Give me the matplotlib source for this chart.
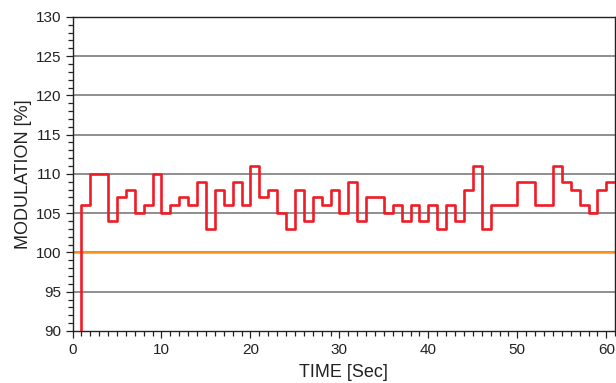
import matplotlib
matplotlib.use('Agg')
import matplotlib.pyplot as plt
from matplotlib.ticker import MultipleLocator
import numpy as np

plt.rcParams['font.family'] = ['Liberation Sans', 'DejaVu Sans']

# modulation per one-second interval [t, t+1)
seconds = list(range(0, 62))
modulation = [0, 106, 110, 110, 104, 107, 108, 105, 106, 110,
              105, 106, 107, 106, 109, 103, 108, 106, 109, 106,
              111, 107, 108, 105, 103, 108, 104, 107, 106, 108,
              105, 109, 104, 107, 107, 105, 106, 104, 106, 104,
              106, 103, 106, 104, 108, 111, 103, 106, 106, 106,
              109, 109, 106, 106, 111, 109, 108, 106, 105, 108,
              109, 109]
reference_level = 100
y_ticks = [90, 95, 100, 105, 110, 115, 120, 125, 130]
x_ticks = [0, 10, 20, 30, 40, 50, 60]

fig = plt.figure(figsize=(6.16, 3.83), dpi=100)
ax = fig.add_axes([0.1177, 0.136, 0.881, 0.82])

for yv in y_ticks[1:-1]:
    ax.axhline(yv, color='#707070', lw=1.1, zorder=1)
ax.axhline(reference_level, color='#f7941d', lw=1.8, zorder=2)
ax.step(seconds, modulation, where='post', color='#ee1c25', lw=1.9, zorder=3)

ax.set_xlim(0, 61)
ax.set_ylim(90, 130)
ax.set_xticks(x_ticks)
ax.set_yticks(y_ticks)
ax.xaxis.set_minor_locator(MultipleLocator(1))
ax.yaxis.set_minor_locator(MultipleLocator(1))
ax.tick_params(axis='both', which='major', direction='out', length=5, width=0.9,
               labelsize=11, colors='#222222', pad=3)
ax.tick_params(axis='x', which='major', pad=4)
ax.tick_params(axis='both', which='minor', direction='out', length=3.5, width=0.9,
               colors='#222222')
for s in ax.spines.values():
    s.set_color('#222222')
    s.set_linewidth(1.0)

ax.set_xlabel('TIME [Sec]', fontsize=13, color='#222222', labelpad=5)
ax.set_ylabel('MODULATION [%]', fontsize=13, color='#222222', labelpad=3)

fig.savefig('out.png', dpi=100)
